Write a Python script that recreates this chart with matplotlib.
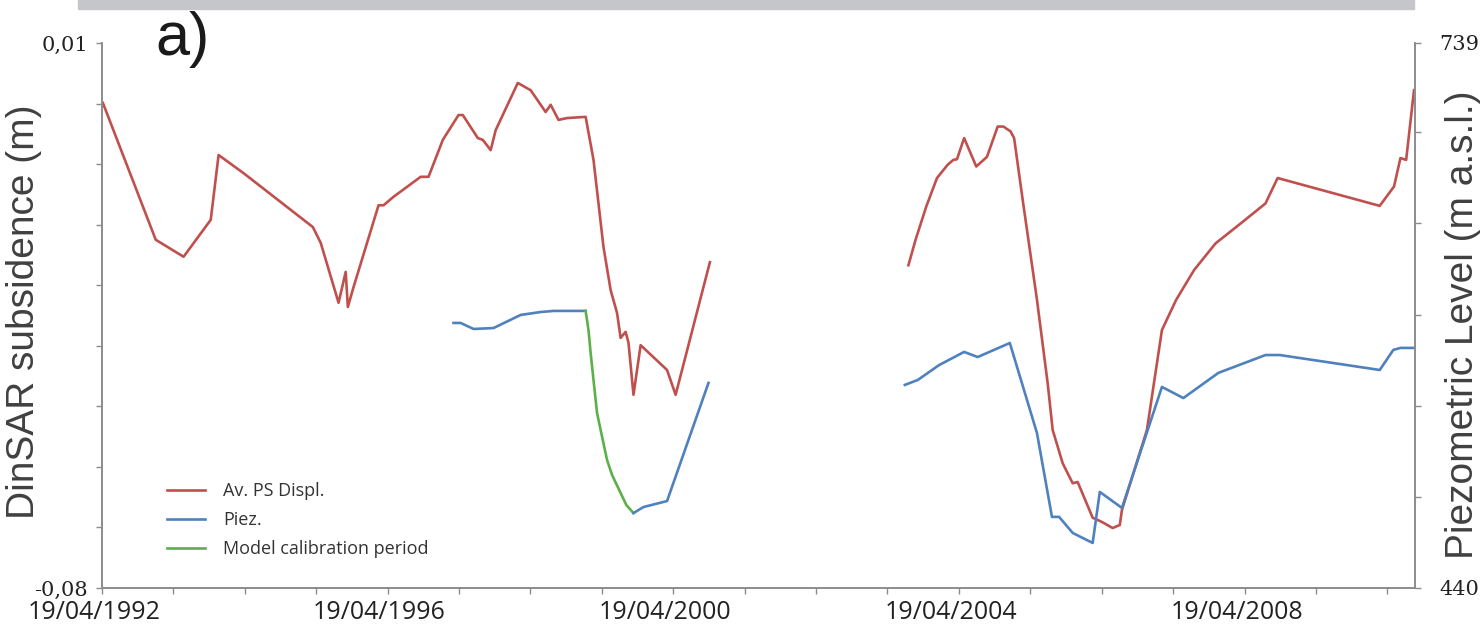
import matplotlib
matplotlib.use('Agg')
import matplotlib.pyplot as plt
import matplotlib.transforms as mtransforms
from matplotlib.lines import Line2D
from matplotlib.patches import Rectangle

# Av. PS displacement (m) - first period (decimal years)
red1_t = [1992.31, 1993.05, 1993.44, 1993.82, 1993.93, 1994.28, 1995.25, 1995.36,
          1995.61, 1995.71, 1995.74, 1995.82, 1996.17, 1996.24, 1996.38, 1996.76,
          1996.87, 1997.07, 1997.29, 1997.35, 1997.56, 1997.63, 1997.74, 1997.81,
          1998.12, 1998.30, 1998.51, 1998.58, 1998.69, 1998.81, 1999.07, 1999.18,
          1999.32, 1999.42, 1999.51, 1999.56, 1999.63, 1999.67, 1999.74, 1999.84,
          2000.21, 2000.33, 2000.81]
red1_v = [0.0001, -0.0225, -0.0253, -0.0192, -0.0085, -0.0115, -0.0204, -0.0230,
          -0.0329, -0.0278, -0.0336, -0.0303, -0.0168, -0.0168, -0.0154, -0.0121,
          -0.0121, -0.0060, -0.0019, -0.0019, -0.0057, -0.0060, -0.0077, -0.0044,
          0.0034, 0.0022, -0.0014, -0.0002, -0.0027, -0.0024, -0.0022, -0.0093,
          -0.0237, -0.0308, -0.0346, -0.0387, -0.0377, -0.0395, -0.0481, -0.0399,
          -0.0440, -0.0481, -0.0262]

# Av. PS displacement (m) - second period
red2_t = [2003.59, 2003.69, 2003.84, 2003.99, 2004.14, 2004.22, 2004.27, 2004.37,
          2004.54, 2004.69, 2004.84, 2004.92, 2005.02, 2005.07, 2005.19, 2005.39,
          2005.54, 2005.61, 2005.75, 2005.89, 2005.96, 2006.17, 2006.30, 2006.45,
          2006.55, 2006.58, 2006.93, 2007.14, 2007.34, 2007.59, 2007.89, 2008.19,
          2008.59, 2008.76, 2010.19, 2010.39, 2010.48, 2010.56, 2010.67]
red2_v = [-0.0267, -0.0225, -0.0170, -0.0123, -0.0101, -0.0093, -0.0092, -0.0057,
          -0.0104, -0.0088, -0.0038, -0.0038, -0.0046, -0.0057, -0.0159, -0.0324,
          -0.0462, -0.0539, -0.0594, -0.0627, -0.0625, -0.0684, -0.0691, -0.0701,
          -0.0696, -0.0671, -0.0539, -0.0374, -0.0324, -0.0275, -0.0231, -0.0203,
          -0.0165, -0.0123, -0.0169, -0.0137, -0.0090, -0.0093, 0.0022]

# Piezometric level (m a.s.l.)
piez1_t = [1997.22, 1997.32, 1997.50, 1997.78, 1998.16, 1998.44, 1998.62, 1999.07]
piez1_v = [585.4, 585.4, 582.1, 582.6, 589.8, 591.4, 592.0, 592.0]

calib_t = [1999.07, 1999.11, 1999.14, 1999.18, 1999.23, 1999.28, 1999.37, 1999.44,
           1999.56, 1999.64, 1999.74]
calib_v = [592.0, 581.5, 568.9, 554.1, 536.0, 526.7, 510.2, 502.0, 492.1, 485.5, 481.1]

piez2_t = [1999.74, 1999.88, 2000.21, 2000.79]
piez2_v = [481.1, 484.4, 487.7, 552.5]

piez3_t = [2003.54, 2003.72, 2004.02, 2004.37, 2004.56, 2005.01, 2005.39, 2005.60,
           2005.70, 2005.89, 2006.17, 2006.27, 2006.58, 2007.14, 2007.44, 2007.93,
           2008.59, 2008.79, 2010.19, 2010.38, 2010.48, 2010.67]
piez3_v = [551.4, 554.1, 562.3, 569.5, 566.7, 574.4, 525.0, 479.0, 479.0, 470.2,
           464.7, 492.7, 483.9, 550.3, 544.2, 558.0, 567.8, 567.8, 559.6, 570.6,
           571.7, 571.7]

major_ticks = [1992.297, 1996.297, 2000.297, 2004.297, 2008.297]
major_labels = ['19/04/1992', '19/04/1996', '19/04/2000', '19/04/2004', '19/04/2008']
minor_ticks = [1992.297 + i for i in range(19)]

left_ticks = [-0.08, -0.07, -0.06, -0.05, -0.04, -0.03, -0.02, -0.01, 0.0, 0.01]
left_labels = ['-0,08', '', '', '', '', '', '', '', '', '0,01']
right_ticks = [440, 490, 540, 590, 640, 690, 739]
right_labels = ['440', '', '', '', '', '', '739']

RED = '#c0504d'
BLUE = '#4f81bd'
GREEN = '#5cb04a'
AXC = '#8c8c8c'

fig = plt.figure(figsize=(14.8, 6.34), dpi=100)
fig.patches.append(Rectangle((78 / 1480, 1 - 9 / 634), (1414 - 78) / 1480, 9 / 634,
                             transform=fig.transFigure, color='#c4c6c9', zorder=0))

ax = fig.add_axes([0.0689, 0.0726, 0.887, 0.8596])
ax2 = ax.twinx()

ax.plot(red1_t, red1_v, color=RED, lw=1.9)
ax.plot(red2_t, red2_v, color=RED, lw=1.9)
ax2.plot(piez1_t, piez1_v, color=BLUE, lw=1.9)
ax2.plot(calib_t, calib_v, color=GREEN, lw=1.9)
ax2.plot(piez2_t, piez2_v, color=BLUE, lw=1.9)
ax2.plot(piez3_t, piez3_v, color=BLUE, lw=1.9)

ax.set_xlim(1992.297, 2010.68)
ax.set_ylim(-0.08, 0.01)
ax2.set_ylim(440, 739)

for a in (ax, ax2):
    a.spines['top'].set_visible(False)
    for s in ('left', 'right', 'bottom'):
        a.spines[s].set_color(AXC)
        a.spines[s].set_linewidth(1.2)
    a.tick_params(colors=AXC, length=4, width=1)

ax.set_xticks(major_ticks, major_labels)
ax.set_xticks(minor_ticks, minor=True)
ax.tick_params(axis='x', which='both', length=4, width=1, color=AXC,
               labelcolor='#222222', labelsize=18, pad=5)
for lab in ax.get_xticklabels():
    lab.set_fontfamily('Open Sans')
    lab.set_transform(lab.get_transform() +
                      mtransforms.ScaledTranslation(-0.08, 0, fig.dpi_scale_trans))

ax.set_yticks(left_ticks, left_labels)
ax.tick_params(axis='y', labelcolor='#222222', labelsize=15, pad=6)
for lab in ax.get_yticklabels():
    lab.set_fontfamily('DejaVu Serif')

ax2.set_yticks(right_ticks, right_labels)
ax2.tick_params(axis='y', labelcolor='#222222', labelsize=15, pad=14)
for lab in ax2.get_yticklabels():
    lab.set_fontfamily('DejaVu Serif')

ax.set_ylabel('DinSAR subsidence (m)', fontsize=28, family='Liberation Sans',
              color='#404040')
ax.yaxis.set_label_coords(-0.0457, 0.506)
ax2.set_ylabel('Piezometric Level (m a.s.l.)', fontsize=28, family='Liberation Sans',
               color='#404040')
ax2.yaxis.set_label_coords(1.0228, 0.483)

fig.text(155 / 1480, 1 - 55 / 634, 'a)', fontsize=44, family='Liberation Sans',
         color='#1a1a1a', va='baseline', ha='left')

handles = [Line2D([], [], color=RED, lw=1.9),
           Line2D([], [], color=BLUE, lw=1.9),
           Line2D([], [], color=GREEN, lw=1.9)]
leg = ax.legend(handles, ['Av. PS Displ.', 'Piez.', 'Model calibration period'],
                loc='upper left', bbox_to_anchor=(167 / 1480, 1 - 482 / 634),
                bbox_transform=fig.transFigure, frameon=False, borderpad=0,
                borderaxespad=0, handlelength=2.1, handletextpad=1.0,
                labelspacing=0.62, prop={'family': 'Open Sans', 'size': 13})
for t in leg.get_texts():
    t.set_color('#333333')

fig.savefig('out.png', dpi=100)
